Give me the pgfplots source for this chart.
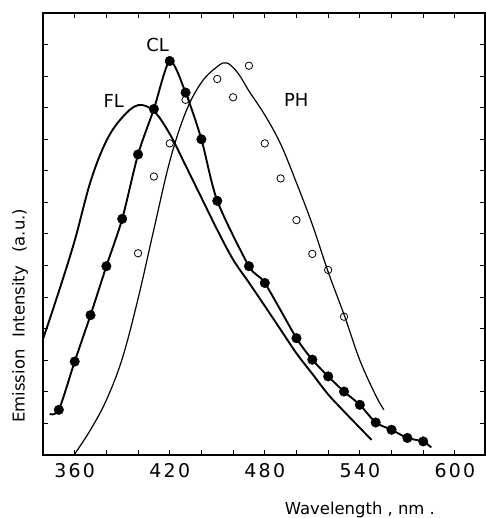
\documentclass[border=0pt]{standalone}
\usepackage{fontspec}
\setmainfont{DejaVu Sans}
\newfontfamily\tickfont[LetterSpace=12]{DejaVu Sans}
\usepackage{pgfplots}
\pgfplotsset{compat=1.18}

% CL: chemiluminescence, filled points
\pgfplotstableread{
x y
350 1.43
360 2.96
370 4.43
380 5.98
390 7.48
400 9.52
410 10.96
420 12.48
430 11.48
440 10.00
450 8.05
470 5.98
480 5.45
500 3.70
510 3.02
520 2.49
530 2.01
540 1.59
550 1.03
560 0.80
570 0.54
580 0.43
}\cldata

% PH: open points
\pgfplotstableread{
x y
400 6.39
410 8.82
420 9.87
430 11.25
450 11.91
460 11.33
470 12.33
480 9.87
490 8.76
500 7.44
510 6.37
520 5.86
530 4.38
}\phdata

\begin{document}
\begin{tikzpicture}
\begin{axis}[
  name=ax,
  scale only axis, width=442bp, height=442bp,
  xmin=340, xmax=619, ymin=0, ymax=14,
  xtick={360,420,...,600},
  minor xtick={380,400,440,460,500,520,560,580},
  ytick={1,...,13}, yticklabels={},
  tick align=inside, major tick length=5bp, minor tick length=5bp,
  tick style={line width=1bp, black},
  axis line style={line width=1.3bp},
  ticklabel style={font=\tickfont\fontsize{19}{22}\selectfont},
  /pgf/number format/assume math mode=true,
  /pgf/number format/1000 sep={},
  xticklabel style={yshift=-5bp},
  xlabel={Wavelength , nm .},
  ylabel={Emission\hspace{0.4em} Intensity\hspace{0.5em} (a.u.)},
  label style={font=\fontsize{16.5}{19}\selectfont},
  xlabel style={at={(rel axis cs:0.717,-0.1244)}, anchor=center},
  ylabel style={at={(rel axis cs:-0.052,0.315)}, anchor=center},
]
% FL curve
\addplot[black, line width=1.9bp, smooth, tension=0.6] coordinates {
(340,3.67) (350,5.18) (360,6.79) (370,8.66) (380,9.95) (390,10.69) (400,11.08)
(410,10.89) (420,10.17) (430,9.17) (440,8.15) (450,7.13) (460,6.19) (470,5.46)
(480,4.72) (490,3.97) (500,3.22) (510,2.57) (520,1.92) (530,1.38) (540,0.86)
(547.4,0.48)};
% CL line
\addplot[black, line width=1.9bp, smooth, tension=0.45] coordinates {
(344.2,1.30) (350,1.43) (360,2.96) (370,4.43) (380,5.98) (390,7.48) (400,9.52)
(410,10.96) (420,12.48) (430,11.48) (440,10.00) (450,8.05) (470,5.98) (480,5.45)
(500,3.70) (510,3.02) (520,2.49) (530,2.01) (540,1.59) (550,1.03) (560,0.80)
(570,0.54) (580,0.43) (585,0.24)};
% CL points
\addplot[only marks, mark=*, mark size=4.8bp, black] table {\cldata};
% PH points
\addplot[only marks, mark=o, mark size=3.7bp, mark options={fill=white, line width=0.8bp}, black] table {\phdata};
% PH curve
\addplot[black, line width=1.2bp, smooth, tension=0.6] coordinates {
(360,0.03) (370,0.80) (380,1.74) (390,3.05) (400,4.95) (410,7.15) (420,9.30)
(430,10.85) (440,11.80) (450,12.30) (456,12.42) (463,12.10) (470,11.53) (480,10.77)
(490,9.85) (500,8.62) (510,7.30) (520,5.80) (530,4.45) (540,3.00) (550,1.89)
(555.2,1.43)};
\node[font=\fontsize{18}{21}\selectfont] at (axis cs:412.4,13.0) {CL};
\node[font=\fontsize{18}{21}\selectfont] at (axis cs:384.6,11.21) {FL};
\node[font=\fontsize{18}{21}\selectfont] at (axis cs:499.8,11.24) {PH};
\end{axis}
\pgfresetboundingbox
\path ([shift={(-43bp,-63bp)}]ax.south west) rectangle ([shift={(1bp,13bp)}]ax.north east);
\end{tikzpicture}
\end{document}
